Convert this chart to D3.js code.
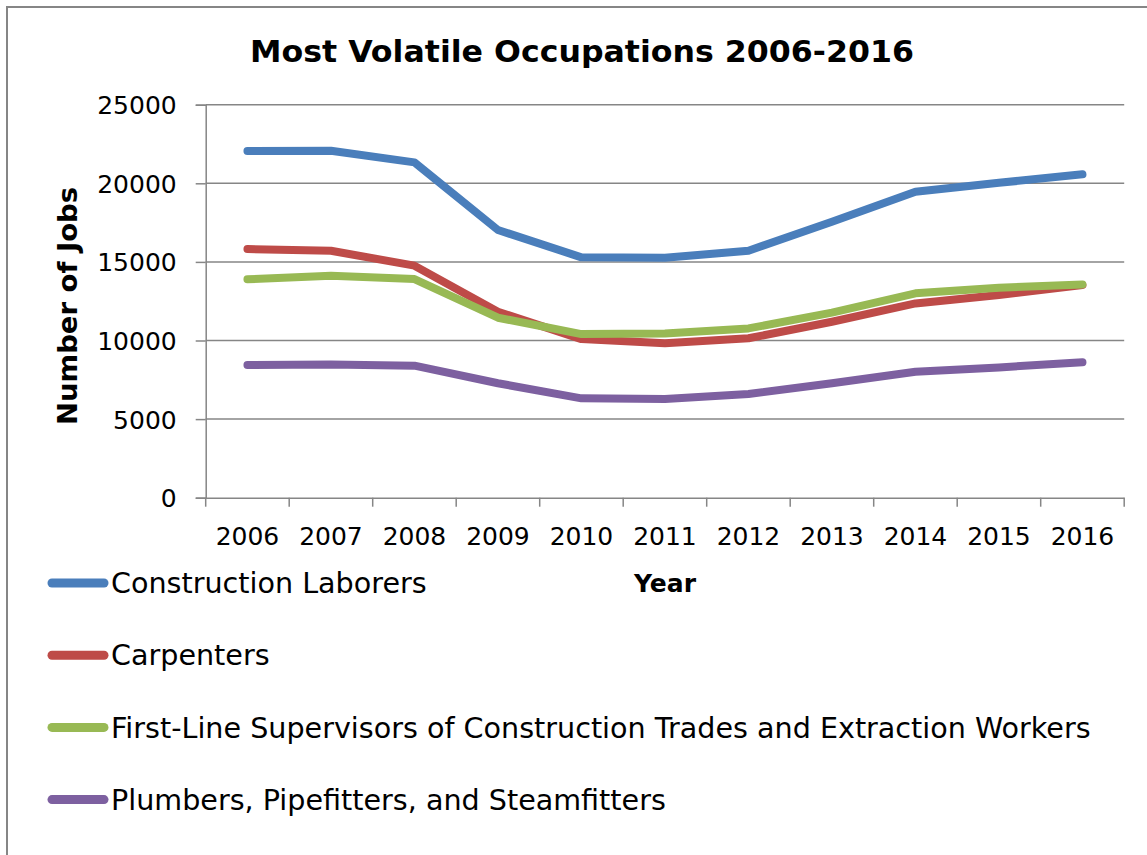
<!DOCTYPE html>
<html>
<head>
<meta charset="utf-8">
<script src="https://cdn.jsdelivr.net/npm/d3@7"></script>
<style>
  body { margin: 0; background: #fff; }
  svg text { font-family: "DejaVu Sans", sans-serif; fill: #000; }
</style>
</head>
<body>
<div id="chart"></div>
<script>
const years = ["2006", "2007", "2008", "2009", "2010", "2011", "2012", "2013", "2014", "2015", "2016"];
const laborers = [22050, 22070, 21330, 17030, 15290, 15260, 15710, 17550, 19460, 20030, 20570];
const carpenters = [15820, 15710, 14760, 11830, 10090, 9820, 10140, 11190, 12360, 12890, 13530];
const supervisors = [13890, 14120, 13910, 11450, 10410, 10450, 10770, 11770, 13000, 13360, 13570];
const plumbers = [8440, 8480, 8400, 7280, 6320, 6280, 6600, 7280, 8010, 8290, 8610];
const seriesNames = [
  "Construction Laborers",
  "Carpenters",
  "First-Line Supervisors of Construction Trades and Extraction Workers",
  "Plumbers, Pipefitters, and Steamfitters"
];
const yTicks = [0, 5000, 10000, 15000, 20000, 25000];

const series = [laborers, carpenters, supervisors, plumbers].map((values, i) => ({
  name: seriesNames[i],
  values
}));
const colors = ["#4a7ebb", "#be4b48", "#98b954", "#7d60a0"];

const W = 1147, H = 855;
const plot = { left: 205.7, right: 1124.2, top: 104.7, bottom: 497.7 };

const svg = d3.select("#chart")
  .append("svg")
  .attr("width", W)
  .attr("height", H);

// outer chart border (right and bottom fall outside the picture)
svg.append("path")
  .attr("d", `M7,${H + 5}V7H${W + 5}`)
  .attr("fill", "none")
  .attr("stroke", "#868686")
  .attr("stroke-width", 2);

// scales
const x = d3.scaleBand().domain(years).range([plot.left, plot.right]);
const xc = (d) => x(d) + x.bandwidth() / 2;
const y = d3.scaleLinear().domain([0, 25000]).range([plot.bottom, plot.top]);

// gridlines
svg.append("g")
  .selectAll("line")
  .data(yTicks.filter((t) => t > 0))
  .join("line")
  .attr("x1", plot.left)
  .attr("x2", plot.right)
  .attr("y1", (d) => y(d))
  .attr("y2", (d) => y(d))
  .attr("stroke", "#868686")
  .attr("stroke-width", 1.5);

// y axis
const yAxis = svg.append("g")
  .attr("transform", `translate(${plot.left},0)`)
  .call(d3.axisLeft(y).tickValues(yTicks).tickSize(10).tickPadding(19).tickFormat(d3.format("d")));
yAxis.select(".domain").attr("stroke", "#868686").attr("stroke-width", 1.5);
yAxis.selectAll(".tick line").attr("stroke", "#868686").attr("stroke-width", 1.5);
yAxis.selectAll(".tick text")
  .style("font-size", "25px")
  .attr("dy", "0.36em");

// x axis (labels centred, tick marks between categories)
const xAxis = svg.append("g")
  .attr("transform", `translate(0,${plot.bottom})`)
  .call(d3.axisBottom(x).tickSize(0).tickPadding(30));
xAxis.select(".domain").attr("stroke", "#868686").attr("stroke-width", 1.5);
xAxis.selectAll(".tick text").style("font-size", "25px");

svg.append("g")
  .selectAll("line")
  .data(years.map((d) => x(d)).concat([plot.right]))
  .join("line")
  .attr("x1", (d) => d)
  .attr("x2", (d) => d)
  .attr("y1", plot.bottom)
  .attr("y2", plot.bottom + 9)
  .attr("stroke", "#868686")
  .attr("stroke-width", 1.5);

// lines
const line = d3.line()
  .x((d, i) => xc(years[i]))
  .y((d) => y(d));

svg.append("g")
  .selectAll("path")
  .data(series)
  .join("path")
  .attr("d", (d) => line(d.values))
  .attr("fill", "none")
  .attr("stroke", (d, i) => colors[i])
  .attr("stroke-width", 8)
  .attr("stroke-linecap", "round")
  .attr("stroke-linejoin", "round");

// title
svg.append("text")
  .attr("x", 582)
  .attr("y", 62)
  .attr("text-anchor", "middle")
  .attr("textLength", 664)
  .attr("lengthAdjust", "spacingAndGlyphs")
  .style("font-size", "31px")
  .style("font-weight", "bold")
  .text("Most Volatile Occupations 2006-2016");

// axis titles
svg.append("text")
  .attr("transform", "translate(77,306) rotate(-90)")
  .attr("text-anchor", "middle")
  .attr("textLength", 238)
  .attr("lengthAdjust", "spacingAndGlyphs")
  .style("font-size", "27px")
  .style("font-weight", "bold")
  .text("Number of Jobs");

svg.append("text")
  .attr("x", 665)
  .attr("y", 592)
  .attr("text-anchor", "middle")
  .style("font-size", "25px")
  .style("font-weight", "bold")
  .text("Year");

// legend
const legend = svg.append("g")
  .selectAll("g")
  .data(series)
  .join("g")
  .attr("transform", (d, i) => `translate(0,${583 + i * 72.2})`);

legend.append("line")
  .attr("x1", 52)
  .attr("x2", 104)
  .attr("stroke", (d, i) => colors[i])
  .attr("stroke-width", 9)
  .attr("stroke-linecap", "round");

legend.append("text")
  .attr("x", 111)
  .attr("dy", "0.36em")
  .style("font-size", "28.6px")
  .text((d) => d.name);
</script>
</body>
</html>
